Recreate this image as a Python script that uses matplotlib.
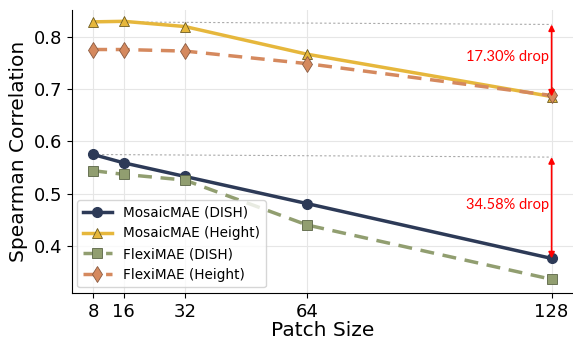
import matplotlib.pyplot as plt

patch_sizes = [8, 16, 32, 64, 128]
mosaic_dish = [0.575, 0.559, 0.533, 0.481, 0.376]
mosaic_height = [0.829, 0.830, 0.820, 0.767, 0.686]
flexi_dish = [0.544, 0.537, 0.526, 0.440, 0.336]
flexi_height = [0.776, 0.776, 0.773, 0.749, 0.688]
drop_labels = ["17.30% drop", "34.58% drop"]

fig = plt.figure(figsize=(5.73, 3.39), dpi=100)
ax = fig.add_axes([0.125, 0.136, 0.875, 0.835])

ax.plot(patch_sizes, mosaic_dish, color='#2d3a57', lw=2.5, marker='o', ms=7,
        mec='#2d3a57', label='MosaicMAE (DISH)', zorder=3)
ax.plot(patch_sizes, mosaic_height, color='#e6b73c', lw=2.5, marker='^', ms=7,
        mec='#6b5a20', mew=0.6, label='MosaicMAE (Height)', zorder=3)
ax.plot(patch_sizes, flexi_dish, color='#919e70', lw=2.5, ls='--', dashes=(4, 2.5),
        marker='s', ms=7, mec='#5a6445', mew=0.6, label='FlexiMAE (DISH)', zorder=3)
ax.plot(patch_sizes, flexi_height, color='#d5895e', lw=2.5, ls='--', dashes=(4, 2.5),
        marker='d', ms=8, mec='#8a5a40', mew=0.6, label='FlexiMAE (Height)', zorder=3)

# reference lines and drop arrows
for series, label, ty in [(mosaic_height, drop_labels[0], 0.762),
                          (mosaic_dish, drop_labels[1], 0.478)]:
    top = series[0] - 0.005
    ax.plot([patch_sizes[0], patch_sizes[-1]], [series[0], top], color='#aaaaaa',
            ls=(0, (2, 2)), lw=0.8, zorder=2)
    ax.annotate('', xy=(patch_sizes[-1], series[-1]), xytext=(patch_sizes[-1], top),
                arrowprops=dict(arrowstyle='<|-|>', color='red', lw=1.2,
                                mutation_scale=9, shrinkA=0, shrinkB=0), zorder=4)
    ax.text(116.5, ty, label, color='red', fontsize=10.5, family='Lato',
            ha='center', va='center')

ax.set_xlim(2.35, 133.6)
ax.set_ylim(0.310, 0.852)
ax.set_xticks(patch_sizes)
ax.set_yticks([0.4, 0.5, 0.6, 0.7, 0.8])
ax.tick_params(labelsize=13)
ax.set_xlabel('Patch Size', fontsize=14.5, labelpad=0)
ax.set_ylabel('Spearman Correlation', fontsize=14.5)
ax.grid(True, color='#e6e6e6', lw=0.8)
ax.set_axisbelow(True)
ax.spines['top'].set_visible(False)
ax.spines['right'].set_visible(False)
ax.legend(loc='lower left', fontsize=9.8, handlelength=2.2, borderpad=0.4,
          labelspacing=0.5, borderaxespad=0.4)

fig.savefig('out.png', dpi=100)
